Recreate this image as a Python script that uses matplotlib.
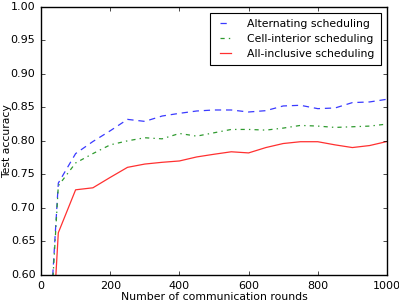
import matplotlib
matplotlib.use("Agg")
import matplotlib.pyplot as plt

plt.style.use('classic')
plt.rcParams['font.family'] = ['DejaVu Sans']

rounds = [30, 50, 100, 150, 200, 250, 300, 350, 400, 450, 500, 550, 600, 650,
          700, 750, 800, 850, 900, 950, 1000]
alternating = [0.566, 0.737, 0.781, 0.799, 0.815, 0.832, 0.829, 0.837, 0.841, 0.8445,
               0.846, 0.846, 0.843, 0.845, 0.852, 0.853, 0.848, 0.849, 0.857, 0.858, 0.862]
cell_interior = [0.556, 0.733, 0.767, 0.781, 0.794, 0.800, 0.8046, 0.803, 0.811, 0.807,
                 0.812, 0.817, 0.817, 0.816, 0.819, 0.823, 0.822, 0.820, 0.821, 0.822, 0.825]
all_inclusive = [0.483, 0.663, 0.727, 0.730, 0.7455, 0.7605, 0.7654, 0.768, 0.770, 0.776,
                 0.780, 0.7837, 0.782, 0.790, 0.796, 0.7987, 0.7987, 0.794, 0.790, 0.793, 0.799]
labels = ["Alternating scheduling", "Cell-interior scheduling", "All-inclusive scheduling"]

fig = plt.figure(figsize=(3.99, 3.04), dpi=100, facecolor='white')
ax = fig.add_axes([0.1028, 0.0954, 0.867, 0.8826])
ax.plot(rounds, alternating, '--', dashes=(4.5, 3.5), color='#3a3aff', lw=0.9, label=labels[0])
ax.plot(rounds, cell_interior, '-.', dashes=(3, 3, 1, 3), color='#2e9a2e', lw=0.9, label=labels[1])
ax.plot(rounds, all_inclusive, '-', color='#ff3030', lw=0.9, label=labels[2])
ax.set_xlim(0, 1000)
ax.set_ylim(0.6, 1.0)
ax.set_xticks([0, 200, 400, 600, 800, 1000])
ax.set_yticks([0.60, 0.65, 0.70, 0.75, 0.80, 0.85, 0.90, 0.95, 1.00])
ax.set_yticklabels(['%.2f' % v for v in ax.get_yticks()])
ax.tick_params(labelsize=8, length=3, pad=4)
ax.set_xlabel("Number of communication rounds", fontsize=7.8)
ax.set_ylabel("Test accuracy", fontsize=7.8)
ax.yaxis.set_label_coords(-0.085, 0.5)
ax.xaxis.set_label_coords(0.5, -0.064)
leg = ax.legend(loc='upper right', fontsize=7.8, handlelength=1.65, handletextpad=1.15,
                borderpad=0.6, labelspacing=0.45, borderaxespad=0.55)
leg.get_frame().set_linewidth(0.8)
fig.savefig("out.png", dpi=100, facecolor='white')
